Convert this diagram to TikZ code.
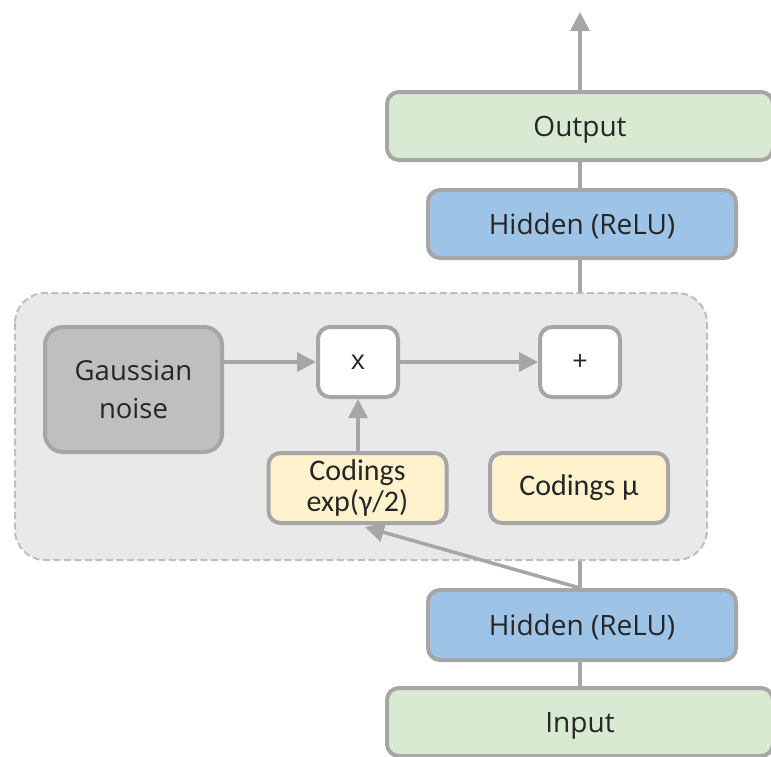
\documentclass[tikz,border=0pt]{standalone}
\usepackage{fontspec}
\setmainfont{Open Sans}
\newfontfamily\codefont{Carlito}
\usetikzlibrary{arrows.meta}
\definecolor{edge}{HTML}{A6A6A6}
\definecolor{txt}{HTML}{262626}
\definecolor{layergreen}{HTML}{D9EAD3}
\definecolor{layerblue}{HTML}{9DC3E6}
\definecolor{codeyellow}{HTML}{FFF2CC}
\definecolor{noisegray}{HTML}{BFBFBF}
\definecolor{panel}{HTML}{E9E9E9}
\definecolor{panelborder}{HTML}{BFBFBF}
\tikzset{
  blk/.style={draw=edge, line width=4pt, rounded corners=12pt, text=txt,
    font=\fontsize{28}{32}\selectfont, inner sep=0pt},
  layer/.style={blk, minimum height=68pt, text height=20pt, text depth=0pt},
  opbox/.style={blk, fill=white, minimum width=80pt, minimum height=70pt,
    font=\fontsize{27}{30}\selectfont},
  codebox/.style={blk, fill=codeyellow, minimum width=178pt, minimum height=70pt,
    font=\codefont\fontsize{30}{31}\selectfont, align=center},
  conn/.style={draw=edge, line width=3.5pt},
  arr/.style={conn, -{Triangle[length=19pt,width=19pt]}},
}
\begin{document}
\begin{tikzpicture}[x=1pt,y=-1pt]
\useasboundingbox (0,0) rectangle (771,756);
% layer stack
\node[layer, fill=layergreen, minimum width=386pt] (out) at (580,126) {Output};
\node[layer, fill=layerblue, minimum width=308pt] (hid2) at (582,224) {Hidden (ReLU)};
\node[layer, fill=layerblue, minimum width=308pt, minimum height=70pt] (hid1) at (582,625) {Hidden (ReLU)};
\node[layer, fill=layergreen, minimum width=386pt] (inp) at (580,722) {Input};
\coordinate (top) at (580,12);
% main data path, passing behind the sampling panel
\draw[conn] (inp.north -| 580,0) -- (hid1.south -| 580,0);
\draw[conn] (hid1.north -| 580,0) -- (hid2.south -| 580,0);
\draw[conn] (hid2.north -| 580,0) -- (out.south -| 580,0);
\draw[arr] (out.north -| 580,0) -- (top);
% sampling panel
\draw[panelborder, fill=panel, line width=2pt, dash pattern=on 7pt off 3.5pt, rounded corners=30pt]
  (15,293) rectangle (707,560);
\node[blk, fill=noisegray, minimum width=177pt, minimum height=125pt, align=center,
  font=\fontsize{27.5}{38}\selectfont, rounded corners=18pt] (noise) at (133.5,389.5) {Gaussian\\noise};
\node[opbox] (mul) at (358,362) {x};
\node[opbox] (add) at (580,362) {+};
\node[codebox] (sig) at (357.5,488) {Codings\\exp(γ/2)};
\node[codebox] (mu) at (579,488) {Codings μ};
% connections inside the panel
\draw[arr] (noise.east |- mul.west) -- (mul.west);
\draw[arr] (mul.east) -- (add.west);
\draw[arr] (sig.north -| mul.south) -- (mul.south);
\coordinate (sigfoot) at (365,527);
\draw[arr] (hid1.north -| 580,0) -- (sigfoot);
\end{tikzpicture}
\end{document}
